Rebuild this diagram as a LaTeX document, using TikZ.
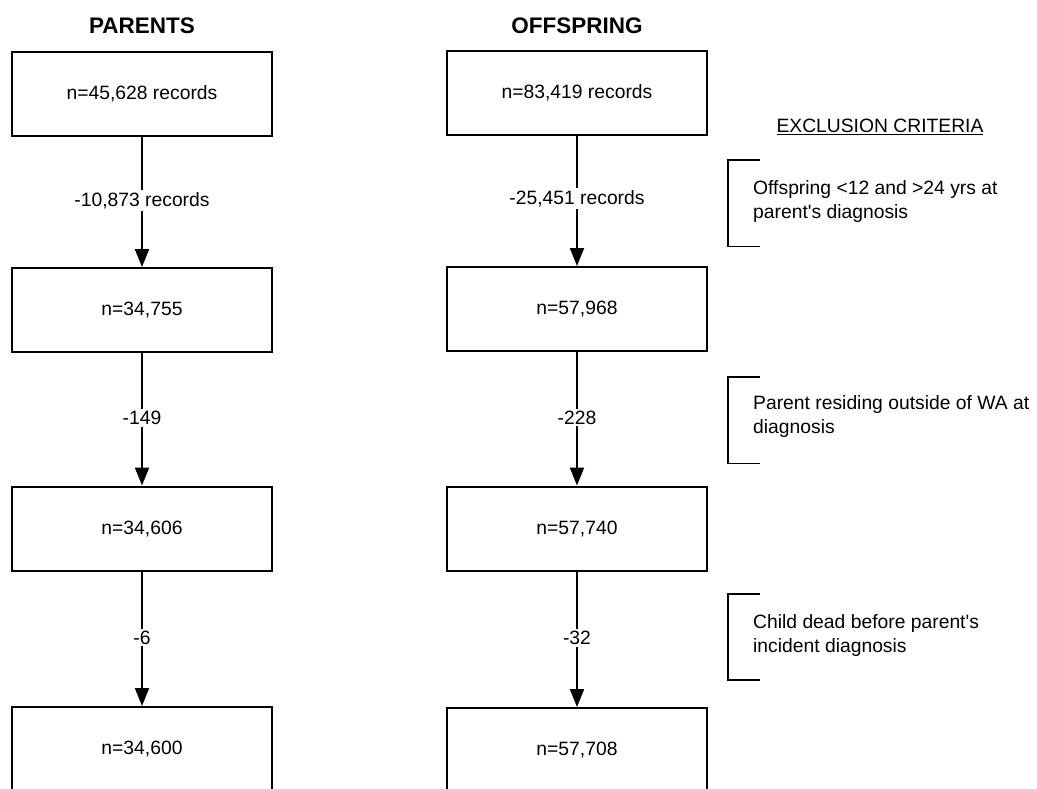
\documentclass[tikz,border=0pt]{standalone}
\usepackage{fontspec}
\setmainfont{Liberation Sans}
\usetikzlibrary{arrows.meta}
\begin{document}
\begin{tikzpicture}[x=1pt,y=-1pt,
  every node/.style={font=\fontsize{19.3}{24}\selectfont},
  box/.style={draw, line width=2pt, minimum width=260pt, minimum height=84pt, inner sep=0pt, fill=white},
  head/.style={font=\fontsize{22.5}{26}\selectfont\bfseries},
  lbl/.style={fill=white, inner sep=2pt},
  conn/.style={line width=2pt, -{Triangle[length=18pt,width=14pt]}},
  brk/.style={line width=1.6pt},
  crit/.style={anchor=west, align=left, inner sep=0pt}]
\clip (0,0) rectangle (1037,789);
\fill[white] (0,0) rectangle (1037,789);

\node[head] (hp) at (142,26) {PARENTS};
\node[head] (ho) at (577,26) {OFFSPRING};

\node[box] (p1) at (142,94) {n=45,628 records};
\node[box] (p2) at (142,310) {n=34,755};
\node[box] (p3) at (142,528.5) {n=34,606};
\node[box] (p4) at (142,749) {n=34,600};

\node[box] (o1) at (577,93) {n=83,419 records};
\node[box] (o2) at (577,309) {n=57,968};
\node[box] (o3) at (577,528.5) {n=57,740};
\node[box] (o4) at (577,750) {n=57,708};

\draw[conn] (p1) -- node[lbl, pos=0.49] {-10,873 records} (p2);
\draw[conn] (p2) -- node[lbl, pos=0.49] {-149} (p3);
\draw[conn] (p3) -- node[lbl, pos=0.49] {-6} (p4);
\draw[conn] (o1) -- node[lbl, pos=0.48] {-25,451 records} (o2);
\draw[conn] (o2) -- node[lbl, pos=0.49] {-228} (o3);
\draw[conn] (o3) -- node[lbl, pos=0.49] {-32} (o4);

\node (ex) at (880,127) {\underline{EXCLUSION CRITERIA}};

\draw[brk] (760,160) -- (728,160) -- (728,246.5) -- (760,246.5);
\node[crit] (c1) at (753,202) {Offspring <12 and >24 yrs at\\parent\textquotesingle s diagnosis};

\draw[brk] (760,377) -- (728,377) -- (728,463.5) -- (760,463.5);
\node[crit] (c2) at (753,417) {Parent residing outside of WA at\\diagnosis};

\draw[brk] (760,594) -- (728,594) -- (728,680) -- (760,680);
\node[crit] (c3) at (753,636) {Child dead before parent\textquotesingle s\\incident diagnosis};
\end{tikzpicture}
\end{document}
